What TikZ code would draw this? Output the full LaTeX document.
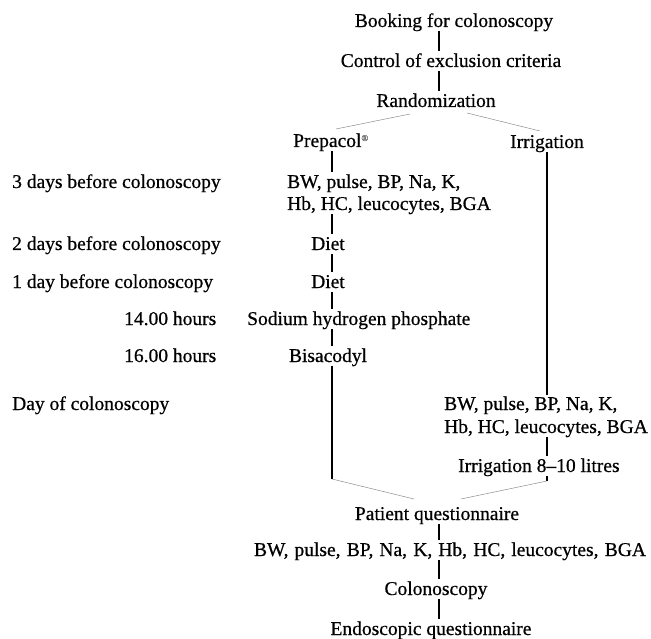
\documentclass[tikz,border=0pt]{standalone}
\usepackage{fontspec}
\setmainfont{Liberation Serif}[UprightFeatures={FakeBold=0.6}]
\begin{document}
\begin{tikzpicture}[x=1pt,y=-1pt,
  txt/.style={inner sep=1pt,font=\fontsize{19.5}{23}\selectfont,text height=12pt,text depth=3pt},
  lft/.style={txt,anchor=base west},
  ctr/.style={txt,anchor=base},
  vline/.style={line width=1.2pt,shorten >=3pt},
  gline/.style={line width=0.5pt,black!45}]
\useasboundingbox (0,0) rectangle (651,639);
% axes
\coordinate (ax) at (439,0);
\coordinate (pa) at (332,0);
\coordinate (ia) at (547,0);
% nodes
\node[ctr] (book) at (454,27) {Booking for colonoscopy};
\node[ctr] (ctrl) at (451,67) {Control of exclusion criteria};
\node[ctr] (rand) at (436,107) {Randomization};
\node[lft] (prep) at (292,147) {Prepacol\raisebox{6pt}{\fontsize{9}{9}\selectfont\color{black!60}\textregistered}};
\node[ctr] (irr) at (547,148) {Irrigation};
\node[lft] (d3) at (11,188) {3 days before colonoscopy};
\node[lft] (bw1) at (286,188) {BW, pulse, BP, Na, K,};
\node[lft] (hb1) at (286,210) {Hb, HC, leucocytes, BGA};
\node[lft] (d2) at (11,250) {2 days before colonoscopy};
\node[ctr] (diet1) at (328,250) {Diet};
\node[lft] (d1) at (11,288) {1 day before colonoscopy};
\node[ctr] (diet2) at (328,288) {Diet};
\node[lft] (h14) at (123,325) {14.00 hours};
\node[lft] (sod) at (246,325) {Sodium hydrogen phosphate};
\node[lft] (h16) at (123,362) {16.00 hours};
\node[ctr] (bis) at (328,362) {Bisacodyl};
\node[lft] (dday) at (11,410) {Day of colonoscopy};
\node[lft] (bw2) at (443,410) {BW, pulse, BP, Na, K,};
\node[lft] (hb2) at (443,433) {Hb, HC, leucocytes, BGA};
\node[lft] (irr2) at (457,472) {Irrigation 8--10 litres};
\node[ctr] (pq) at (437,520) {Patient questionnaire};
\node[ctr] (bw3) at (450,556) {\makebox[392pt][s]{BW, pulse, BP, Na, K, Hb, HC, leucocytes, BGA}};
\node[ctr] (col) at (436,595) {Colonoscopy};
\node[ctr] (endo) at (431,635) {Endoscopic questionnaire};
% corner coordinates of the grey connectors
\coordinate (randL) at (410,114);
\coordinate (prepT) at (336,129);
\coordinate (randR) at (467,113);
\coordinate (irrT) at (540,131);
\coordinate (lc) at (332,479);
\coordinate (rc) at (547,481);
\coordinate (pqL) at (414,499);
\coordinate (pqR) at (461,499);
% connectors
\draw[vline] (book.south -| ax) -- (ctrl.north -| ax);
\draw[vline] (ctrl.south -| ax) -- (rand.north -| ax);
\draw[gline] (randL) -- (prepT);
\draw[gline] (randR) -- (irrT);
\draw[vline] (prep.south -| pa) -- (bw1.north -| pa);
\draw[vline] (hb1.south -| pa) -- (diet1.north -| pa);
\draw[vline] (diet1.south -| pa) -- (diet2.north -| pa);
\draw[vline] (diet2.south -| pa) -- (sod.north -| pa);
\draw[vline] (sod.south -| pa) -- (bis.north -| pa);
\draw[vline,shorten >=0pt] (bis.south -| pa) -- (lc);
\draw[gline] (lc) -- (pqL);
\draw[vline,shorten >=2pt] (irr.south -| ia) -- (bw2.north -| ia);
\draw[vline] (hb2.south -| ia) -- (irr2.north -| ia);
\draw[vline,shorten >=0pt] (irr2.south -| ia) -- (rc);
\draw[gline] (rc) -- (pqR);
\draw[vline] (pq.south -| ax) -- (bw3.north -| ax);
\draw[vline] (bw3.south -| ax) -- (col.north -| ax);
\draw[vline] (col.south -| ax) -- (endo.north -| ax);
\end{tikzpicture}
\end{document}
